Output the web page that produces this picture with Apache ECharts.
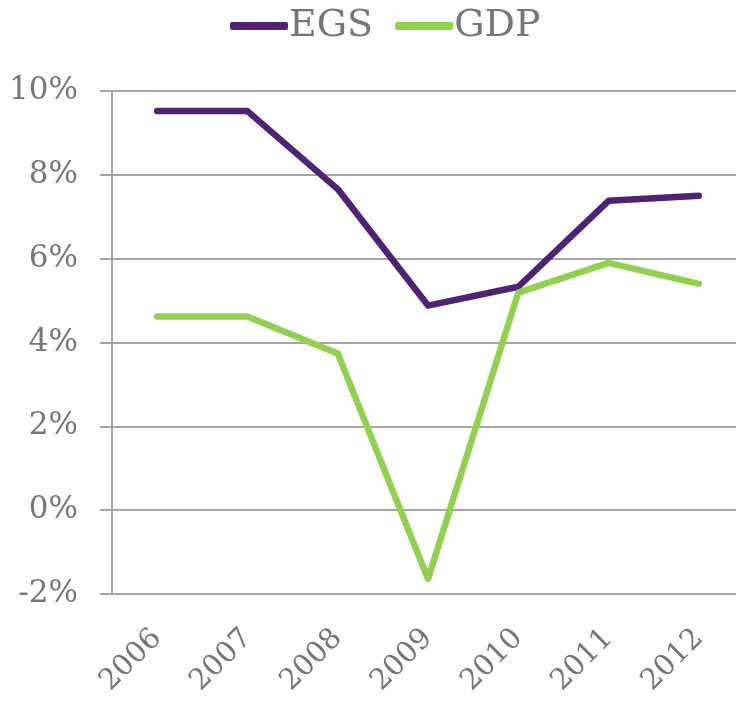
<!DOCTYPE html>
<html>
<head>
<meta charset="utf-8">
<script src="https://cdn.jsdelivr.net/npm/echarts@6/dist/echarts.min.js"></script>
<style>
  html, body { margin: 0; padding: 0; background: #fff; }
  #chart { width: 736px; height: 702px; }
</style>
</head>
<body>
<div id="chart"></div>
<script>
var years = ['2006', '2007', '2008', '2009', '2010', '2011', '2012'];
var egs = [9.52, 9.52, 7.66, 4.88, 5.33, 7.38, 7.5];
var gdp = [4.62, 4.62, 3.74, -1.64, 5.19, 5.9, 5.4];

var FONT = 'DejaVu Serif';
var GREY = '#767676';

var myChart = echarts.init(document.getElementById('chart'));
var option = {
  animation: false,
  legend: {
    top: 2,
    left: 225,
    icon: 'roundRect',
    itemWidth: 58,
    itemHeight: 8,
    itemGap: 22,
    textStyle: { fontFamily: FONT, fontSize: 38, color: GREY, padding: [0, 0, 0, -4] },
    data: ['EGS', 'GDP']
  },
  grid: { left: 112, width: 632, top: 91, bottom: 108, outerBoundsMode: 'none' },
  xAxis: {
    type: 'category',
    data: years,
    boundaryGap: true,
    axisLine: { lineStyle: { color: '#A6A6A6', width: 2 } },
    axisTick: { show: false },
    axisLabel: {
      rotate: 45,
      margin: 40,
      fontFamily: FONT,
      fontSize: 29,
      color: GREY
    }
  },
  yAxis: {
    type: 'value',
    min: -2,
    max: 10,
    interval: 2,
    axisLine: { show: true, lineStyle: { color: '#A6A6A6', width: 2 } },
    axisTick: { show: true, length: 12, lineStyle: { color: '#A6A6A6', width: 2 } },
    splitLine: { lineStyle: { color: '#A6A6A6', width: 2 } },
    axisLabel: {
      margin: 34,
      fontFamily: FONT,
      fontSize: 31,
      color: GREY,
      formatter: '{value}%'
    }
  },
  series: [
    {
      name: 'EGS',
      type: 'line',
      data: egs,
      showSymbol: false,
      color: '#4E2373',
      lineStyle: { width: 6.5, cap: 'round', join: 'round' }
    },
    {
      name: 'GDP',
      type: 'line',
      data: gdp,
      showSymbol: false,
      color: '#92D050',
      lineStyle: { width: 6.5, cap: 'round', join: 'round' }
    }
  ]
};
myChart.setOption(option);
</script>
</body>
</html>
